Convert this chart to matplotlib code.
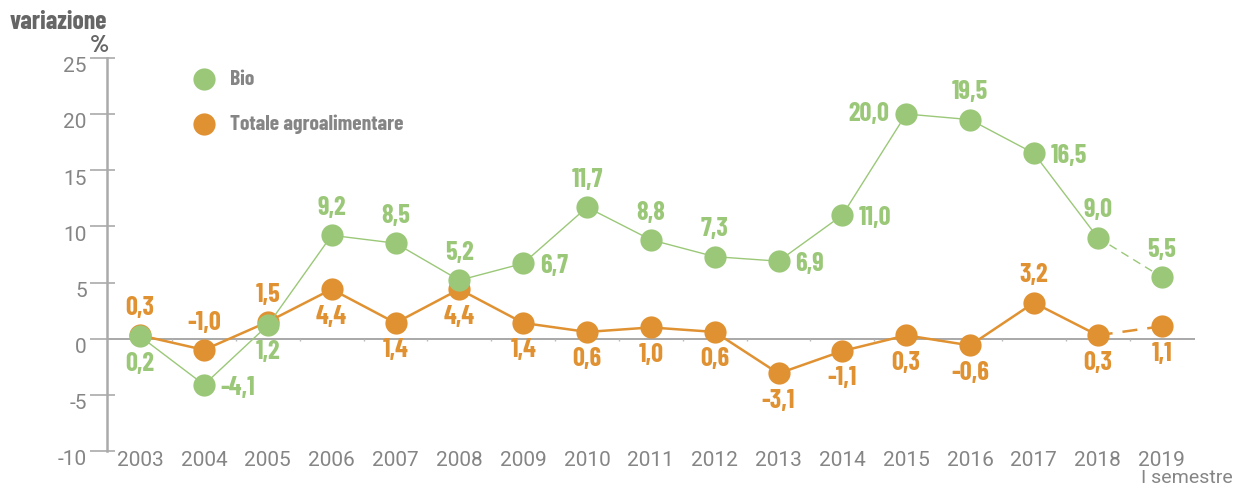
import numpy as np
import matplotlib.pyplot as plt
import matplotlib.transforms as mtransforms

# dati
anni = ['2003', '2004', '2005', '2006', '2007', '2008', '2009', '2010', '2011',
        '2012', '2013', '2014', '2015', '2016', '2017', '2018', '2019']
bio = [0.2, -4.1, 1.2, 9.2, 8.5, 5.2, 6.7, 11.7, 8.8, 7.3, 6.9, 11.0, 20.0, 19.5, 16.5, 9.0, 5.5]
totale = [0.3, -1.0, 1.5, 4.4, 1.4, 4.4, 1.4, 0.6, 1.0, 0.6, -3.1, -1.1, 0.3, -0.6, 3.2, 0.3, 1.1]
yticks = [-10, -5, 0, 5, 10, 15, 20, 25]

# posizione etichette: a=sopra, b=sotto, r=destra, l=sinistra
pos_bio = ['b', 'r', 'b', 'a', 'a', 'a', 'r', 'a', 'a', 'a', 'r', 'r', 'l', 'a', 'r', 'a', 'a']
pos_tot = ['a', 'a', 'a', 'b', 'b', 'b', 'b', 'b', 'b', 'b', 'b', 'b', 'b', 'b', 'a', 'b', 'b']

verde = '#9bc878'
arancio = '#e09232'
grigio = '#858585'
font_num = ['Barlow Condensed', 'DejaVu Sans']
font_ass = ['Roboto', 'DejaVu Sans']

fig = plt.figure(figsize=(12.34, 4.86), dpi=100)
ax = fig.add_axes([0.0867, 0.072, 0.882, 0.809])

x = np.arange(len(anni))

# linea dello zero con piccole tacche tra gli anni
ax.axhline(0, color='#999999', lw=1.2, zorder=1)
ax.vlines(x[:-1] + 0.5, -0.25, 0, color='#bbbbbb', lw=1.0, zorder=1)

# totale agroalimentare
ax.plot(x[:-1], totale[:-1], color=arancio, lw=1.8, zorder=2)
ax.plot(x[-2:], totale[-2:], color=arancio, lw=1.8, ls=(0, (6, 4)), zorder=2)
ax.plot(x, totale, 'o', color=arancio, ms=16, mew=0, zorder=3)

# bio
ax.plot(x[:-1], bio[:-1], color=verde, lw=1.0, zorder=4)
ax.plot(x[-2:], bio[-2:], color=verde, lw=1.0, ls=(0, (6, 4)), zorder=4)
ax.plot(x, bio, 'o', color=verde, ms=16, mew=0, zorder=5)

off = {'a': ((0, 11), 'center', 'bottom'),
       'b': ((0, -11), 'center', 'top'),
       'r': ((12, -2), 'left', 'center'),
       'l': ((-12, 0), 'right', 'center')}

def etichette(vals, posiz, col):
    for i, (v, p) in enumerate(zip(vals, posiz)):
        xy, ha, va = off[p]
        ax.annotate(f'{v:.1f}'.replace('.', ','), (i, v), xytext=xy,
                    textcoords='offset points', ha=ha, va=va, color=col,
                    fontsize=19, fontweight='bold', family=font_num, zorder=6)

etichette(bio, pos_bio, verde)
etichette(totale, pos_tot, arancio)

ax.set_xlim(-0.52, 16.53)
ax.set_ylim(-10, 25)
ax.set_yticks(yticks)
ax.set_yticklabels([str(t) for t in yticks])
ax.set_yticks(yticks, minor=True)
ax.yaxis.remove_overlapping_locs = False
ax.set_xticks(x)
ax.set_xticklabels(anni)

for s in ['top', 'right', 'bottom']:
    ax.spines[s].set_visible(False)
ax.spines['left'].set_color('#aaaaaa')
ax.spines['left'].set_linewidth(1.8)
ax.tick_params(axis='y', which='major', direction='out', length=12.5, width=1.2,
               color='#aaaaaa', labelsize=15, labelcolor=grigio, pad=2)
ax.tick_params(axis='y', which='minor', direction='in', length=6, width=1.2,
               color='#aaaaaa')
ax.tick_params(axis='x', length=0, labelsize=15, labelcolor=grigio, pad=0)
for lab in ax.get_xticklabels() + ax.get_yticklabels():
    lab.set_family(font_ass)

# etichette y leggermente sotto la tacca
sposta = mtransforms.ScaledTranslation(0, -5 / 72, fig.dpi_scale_trans)
for lab in ax.get_yticklabels():
    lab.set_transform(lab.get_transform() + sposta)

# legenda
ax.plot([1.0], [23.1], 'o', color=verde, ms=16, mew=0, clip_on=False)
ax.plot([1.0], [19.1], 'o', color=arancio, ms=16, mew=0, clip_on=False)
ax.text(1.4, 23.1, 'Bio', color=grigio, fontsize=15.5, fontweight='bold',
        family=font_num, va='center')
ax.text(1.4, 19.1, 'Totale agroalimentare', color=grigio, fontsize=15.5,
        fontweight='bold', family=font_num, va='center')

fig.text(0.008, 0.955, 'variazione', color='#666666', fontsize=18.5,
         fontweight='bold', family=font_num, va='center')
fig.text(0.081, 0.905, '%', color='#666666', fontsize=18,
         fontweight='bold', family=font_num, va='center', ha='center')
fig.text(0.999, 0.016, 'I semestre', color=grigio, fontsize=14,
         family=font_ass, ha='right', va='center')

fig.savefig('out.png', dpi=100)
